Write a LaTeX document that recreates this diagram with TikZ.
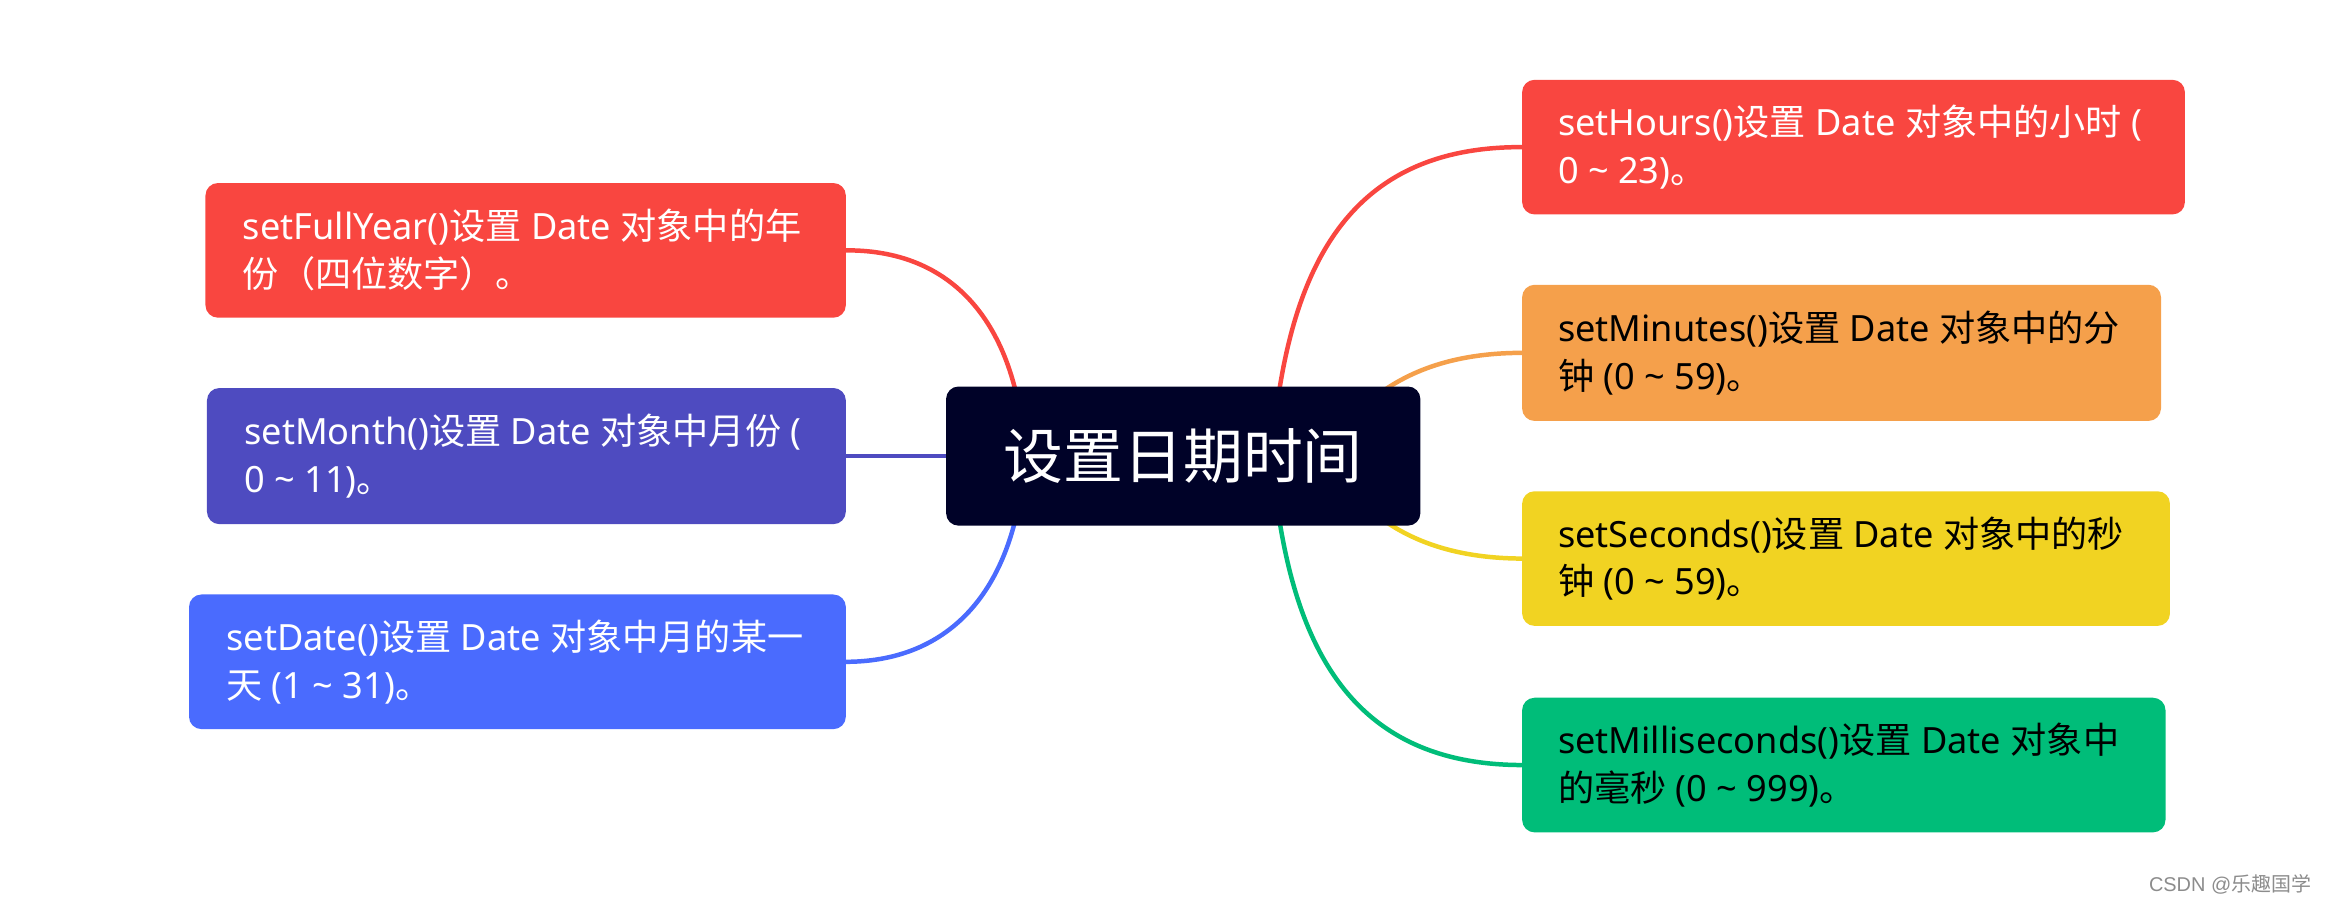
\documentclass[tikz,border=0pt]{standalone}
\usepackage{fontspec}
\setmainfont{Noto Sans}
\newfontfamily\cjk{Noto Sans CJK SC}
\newfontfamily\wmfont{Liberation Sans}
\usetikzlibrary{backgrounds}
\definecolor{cred}{HTML}{F94640}
\definecolor{cindigo}{HTML}{4E4BC0}
\definecolor{cblue}{HTML}{4A6BFE}
\definecolor{corange}{HTML}{F5A04B}
\definecolor{cyellow}{HTML}{F1D322}
\definecolor{cgreen}{HTML}{00BD79}
\definecolor{croot}{HTML}{000228}
\newcommand{\zh}[1]{{\cjk #1}}
\tikzset{
  boxnode/.style n args={3}{draw=none, fill=#3, rounded corners=5pt, anchor=north west,
     minimum width=#1*0.6pt, minimum height=#2*0.6pt, inner sep=0pt},
  txt/.style={anchor=west, align=left, inner sep=0pt, font=\fontsize{14.5pt}{19.2pt}\selectfont},
  link/.style={line width=1.8pt, line cap=round}
}
\begin{document}
\begin{tikzpicture}[x=0.6pt, y=-0.6pt]
\useasboundingbox (0,0) rectangle (1568,604);
% root
\node[boxnode={317}{93}{croot}] (root) at (632,258) {};
\node[anchor=center, text=white, font=\fontsize{24pt}{28pt}\selectfont] (roottxt) at (root.center) {\zh{设置日期时间}};
% left
\node[boxnode={428}{90}{cred}] (fy) at (137,122) {};
\node[txt, text=white] (fyt) at ([xshift=25*0.6pt]fy.west) {setFullYear()\zh{设置} Date \zh{对象中的年}\\\zh{份（四位数字）。}};
\node[boxnode={427}{91}{cindigo}] (mo) at (138,259) {};
\node[txt, text=white] (mot) at ([xshift=25*0.6pt]mo.west) {setMonth()\zh{设置} Date \zh{对象中月份} (\\0 \textasciitilde{} 11)\zh{。}};
\node[boxnode={439}{90}{cblue}] (da) at (126,397) {};
\node[txt, text=white] (dat) at ([xshift=25*0.6pt]da.west) {setDate()\zh{设置} Date \zh{对象中月的某一}\\\zh{天} (1 \textasciitilde{} 31)\zh{。}};
% right
\node[boxnode={443}{90}{cred}] (ho) at (1017,53) {};
\node[txt, text=white] (hot) at ([xshift=24*0.6pt]ho.west) {setHours()\zh{设置} Date \zh{对象中的小时} (\\0 \textasciitilde{} 23)\zh{。}};
\node[boxnode={427}{91}{corange}] (mi) at (1017,190) {};
\node[txt, text=black] (mit) at ([xshift=24*0.6pt]mi.west) {setMinutes()\zh{设置} Date \zh{对象中的分}\\\zh{钟} (0 \textasciitilde{} 59)\zh{。}};
\node[boxnode={433}{90}{cyellow}] (se) at (1017,328) {};
\node[txt, text=black] (set) at ([xshift=24*0.6pt]se.west) {setSeconds()\zh{设置} Date \zh{对象中的秒}\\\zh{钟} (0 \textasciitilde{} 59)\zh{。}};
\node[boxnode={430}{90}{cgreen}] (ms) at (1017,466) {};
\node[txt, text=black] (mst) at ([xshift=24*0.6pt]ms.west) {setMilliseconds()\zh{设置} Date \zh{对象中}\\\zh{的毫秒} (0 \textasciitilde{} 999)\zh{。}};
% watermark
\node[anchor=east, text=black!45, font=\fontsize{8pt}{9pt}\selectfont, inner sep=0pt] (wm) at (1545,591) {\wmfont CSDN @\zh{乐趣国学}};
% connectors
\coordinate (rl) at (685,304);
\coordinate (rr) at (850,304);
\coordinate (rr2) at (885,304);
\begin{pgfonlayer}{background}
\draw[link, cred] (fy.east) .. controls (640,167) and (680,220) .. (rl);
\draw[link, cindigo] (mo.east) -- (root.west);
\draw[link, cblue] (da.east) .. controls (640,442) and (680,388) .. (rl);
\draw[link, cred] (ho.west) .. controls (900,98) and (860,180) .. (rr);
\draw[link, corange] (mi.west) .. controls (960,236) and (915,255) .. (rr2);
\draw[link, cyellow] (se.west) .. controls (960,373) and (915,354) .. (rr2);
\draw[link, cgreen] (ms.west) .. controls (900,511) and (860,428) .. (rr);
\end{pgfonlayer}
\end{tikzpicture}
\end{document}
